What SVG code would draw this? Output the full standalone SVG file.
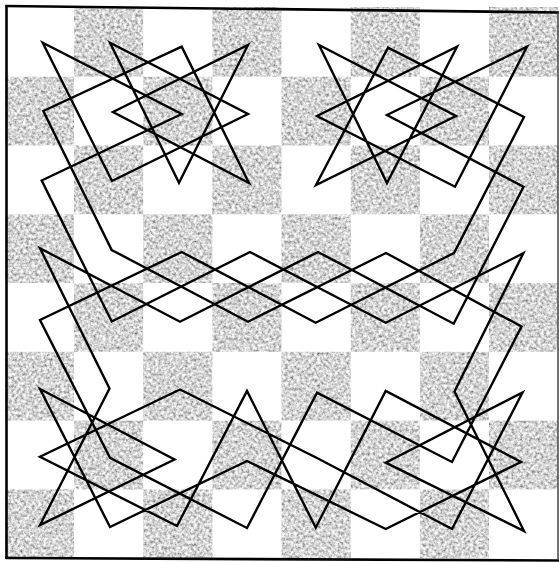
<svg xmlns="http://www.w3.org/2000/svg" width="559" height="562" viewBox="0 0 559 562">
<defs>
<style>
.g{fill:#b0b0b0}
.tour{fill:none;stroke:#000;stroke-width:2.4;stroke-linejoin:miter;stroke-miterlimit:10}
.edge{stroke:#000;stroke-width:2.6;fill:none}
</style>
<filter id="tex" filterUnits="userSpaceOnUse" x="0" y="0" width="559" height="562">
<feTurbulence type="fractalNoise" baseFrequency="0.34" numOctaves="3" seed="7" result="n"/>
<feColorMatrix in="n" type="matrix" values="1.3 0 0 0 0.01  1.3 0 0 0 0.01  1.3 0 0 0 0.01  0 0 0 0 1" result="gn"/>
<feComposite in="gn" in2="SourceGraphic" operator="in"/>
</filter>
</defs>
<rect width="559" height="562" fill="#fff"/>
<g id="board" filter="url(#tex)">
<g id="row0"><rect class="g" x="74" y="7" width="69.2" height="69.7"/><rect class="g" x="212.4" y="7" width="69.1" height="69.7"/><rect class="g" x="350.7" y="7" width="69.2" height="69.7"/><rect class="g" x="489" y="7" width="69" height="69.7"/></g>
<g id="row1"><rect class="g" x="5" y="76.7" width="69" height="68.8"/><rect class="g" x="143.2" y="76.7" width="69.2" height="68.8"/><rect class="g" x="281.5" y="76.7" width="69.2" height="68.8"/><rect class="g" x="419.9" y="76.7" width="69.1" height="68.8"/></g>
<g id="row2"><rect class="g" x="74" y="145.5" width="69.2" height="68.8"/><rect class="g" x="212.4" y="145.5" width="69.1" height="68.8"/><rect class="g" x="350.7" y="145.5" width="69.2" height="68.8"/><rect class="g" x="489" y="145.5" width="69" height="68.8"/></g>
<g id="row3"><rect class="g" x="5" y="214.3" width="69" height="68.7"/><rect class="g" x="143.2" y="214.3" width="69.2" height="68.7"/><rect class="g" x="281.5" y="214.3" width="69.2" height="68.7"/><rect class="g" x="419.9" y="214.3" width="69.1" height="68.7"/></g>
<g id="row4"><rect class="g" x="74" y="283" width="69.2" height="68.8"/><rect class="g" x="212.4" y="283" width="69.1" height="68.8"/><rect class="g" x="350.7" y="283" width="69.2" height="68.8"/><rect class="g" x="489" y="283" width="69" height="68.8"/></g>
<g id="row5"><rect class="g" x="5" y="351.8" width="69" height="68.8"/><rect class="g" x="143.2" y="351.8" width="69.2" height="68.8"/><rect class="g" x="281.5" y="351.8" width="69.2" height="68.8"/><rect class="g" x="419.9" y="351.8" width="69.1" height="68.8"/></g>
<g id="row6"><rect class="g" x="74" y="420.6" width="69.2" height="68.8"/><rect class="g" x="212.4" y="420.6" width="69.1" height="68.8"/><rect class="g" x="350.7" y="420.6" width="69.2" height="68.8"/><rect class="g" x="489" y="420.6" width="69" height="68.8"/></g>
<g id="row7"><rect class="g" x="5" y="489.4" width="69" height="69"/><rect class="g" x="143.2" y="489.4" width="69.2" height="69"/><rect class="g" x="281.5" y="489.4" width="69.2" height="69"/><rect class="g" x="419.9" y="489.4" width="69.1" height="69"/></g>
</g>
<g id="frame">
<line class="edge" x1="6.5" y1="5" x2="6.5" y2="559"/>
<line class="edge" x1="5.5" y1="6" x2="559" y2="12.5"/>
<line class="edge" x1="5.5" y1="558" x2="559" y2="560.5"/>
<line x1="558" y1="12" x2="558" y2="560" stroke="#444" stroke-width="1.5"/>
</g>
<g id="connectors">
<polygon id="tour" class="tour" points="43.3,111 181.7,46.7 249,183 113,112 248,45 179,182.7 110,42.7 248,114 112,181 42.7,42.7 181.7,114 41.7,180.5 111.7,321.5 250,252 385.7,322.7 523.3,253.3 454.5,391.5 524,531 385.7,462.7 522.5,392.5 452,529 317,458 180,389.5 40,456.7 177,526 247,391 315.7,527.7 385.7,391 521,462 385.7,529 247,461 110,527 40,389 174.5,459.5 40,525 109.5,388.5 40,248.3 180,321.7 318,252 453.7,323.7 523.5,186.7 387,115 527,46.7 455,186.7 317,116 457,46.7 387,183 319,45 456,116 316,185 388,47.7 524,117 454,253 315.7,322.7 181.7,252 40,320 110,457.8 247,528 317,392.7 452,462 521.5,326.5 386,253 248,321.7 111.7,250"/>
</g>
</svg>
